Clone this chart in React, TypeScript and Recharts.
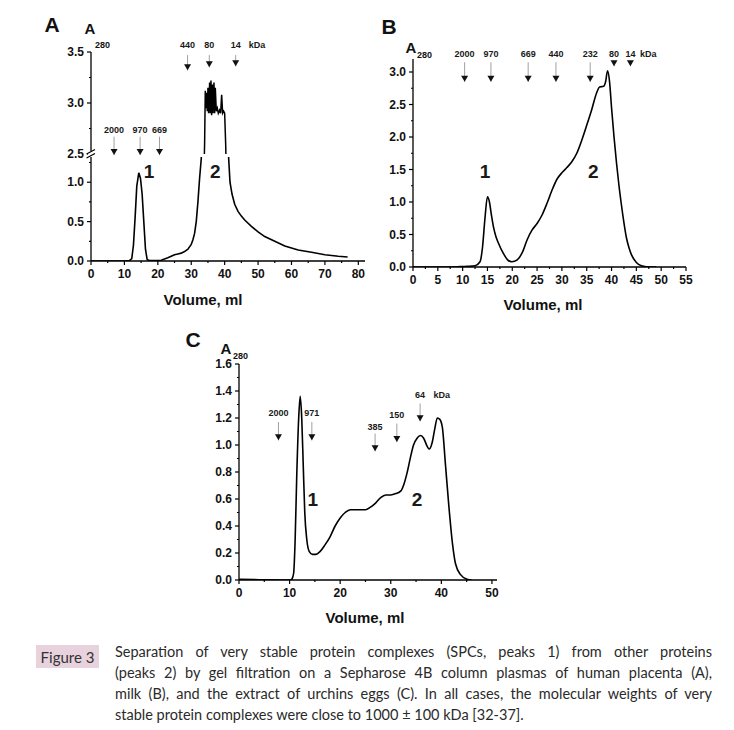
import React from "react";
import { LineChart, Line, XAxis, YAxis, ReferenceDot, ReferenceLine } from "recharts";

// ---- panel A: placenta ----
const aVolume = [0, 5, 10, 11.5, 12.2, 12.7, 13.2, 13.7, 14.3, 14.8, 15.3, 15.8, 16.3, 16.8, 17.5, 20, 21, 22, 23, 24, 25, 26, 27, 28, 29, 30, 30.5, 31, 31.5, 32, 32.5, 33, 33.5, 34, 34.2, 34.4, 34.6, 34.8, 35.0, 35.2, 35.5, 35.7, 35.9, 36.1, 36.3, 36.5, 36.8, 37.0, 37.2, 37.5, 37.8, 38.1, 38.5, 38.8, 39.1, 39.4, 39.7, 40.0, 40.3, 40.8, 41.2, 41.6, 42.2, 43, 44, 45, 46, 48, 50, 52, 55, 58, 62, 66, 70, 74, 76.8];
const aAbs = [0, 0, 0, 0.005, 0.03, 0.2, 0.55, 0.95, 1.12, 1.05, 0.85, 0.5, 0.15, 0.02, 0.005, 0.005, 0.01, 0.025, 0.04, 0.06, 0.08, 0.09, 0.1, 0.12, 0.15, 0.21, 0.27, 0.35, 0.5, 0.75, 1.05, 1.3, 1.9, 2.6, 3.12, 2.95, 3.1, 2.92, 3.15, 2.9, 3.2, 2.9, 3.22, 2.88, 3.18, 2.9, 3.2, 2.9, 3.15, 2.92, 2.95, 2.9, 2.93, 2.9, 3.08, 2.9, 2.92, 2.9, 2.6, 1.9, 1.3, 1.0, 0.85, 0.72, 0.63, 0.57, 0.52, 0.44, 0.37, 0.31, 0.25, 0.19, 0.14, 0.11, 0.08, 0.06, 0.05];
const aXTicks = [0, 5, 10, 15, 20, 25, 30, 35, 40, 45, 50, 55, 60, 65, 70, 75, 80];
const aLowTicks = [0, 0.25, 0.5, 0.75, 1.0, 1.25];
const aHighTicks = [2.5, 2.75, 3.0, 3.25, 3.5];
const aMarkLabels = ["2000", "970", "669", "440", "80", "14"];
const aMarkX = [6.9, 14.7, 20.5, 28.9, 35.4, 43.3];
const aMarkTip = [2.49, 2.49, 2.49, 3.32, 3.35, 3.36];
const aMarkTop = [2.67, 2.67, 2.67, 3.47, 3.47, 3.47];
const aMarkLabelY = [2.74, 2.74, 2.74, 3.57, 3.57, 3.57];
const aKda = [49.7, 3.57];
const aPeakX = [17.4, 37.2];
const aPeakY = [1.13, 1.13];

// ---- panel B: milk ----
const bVolume = [0, 5, 9, 11, 12.5, 13.5, 14, 14.5, 15, 15.4, 15.8, 16.2, 16.7, 17.2, 18.2, 19.2, 19.9, 21, 22, 23, 24, 25, 26, 27, 28, 29, 30, 31, 32, 33, 34, 35, 36, 37, 37.6, 38.4, 38.8, 39.2, 39.6, 40, 40.5, 41, 41.5, 42, 42.5, 43, 43.5, 44, 45, 46, 47, 49];
const bAbs = [0, 0, 0.005, 0.01, 0.02, 0.08, 0.3, 0.75, 1.08, 1.0, 0.8, 0.62, 0.47, 0.37, 0.21, 0.1, 0.08, 0.11, 0.22, 0.42, 0.57, 0.67, 0.8, 0.98, 1.18, 1.35, 1.45, 1.53, 1.62, 1.75, 1.95, 2.18, 2.42, 2.68, 2.77, 2.78, 2.85, 3.02, 2.85, 2.45, 2.0, 1.6, 1.25, 0.95, 0.68, 0.45, 0.3, 0.19, 0.07, 0.02, 0.005, 0];
const bXTicks = [0, 2.5, 5, 7.5, 10, 12.5, 15, 17.5, 20, 22.5, 25, 27.5, 30, 32.5, 35, 37.5, 40, 42.5, 45, 47.5, 50, 52.5, 55];
const bYTicks = [0, 0.25, 0.5, 0.75, 1.0, 1.25, 1.5, 1.75, 2.0, 2.25, 2.5, 2.75, 3.0];
const bMarkLabels = ["2000", "970", "669", "440", "232", "80", "14"];
const bMarkX = [10.4, 15.7, 23.2, 28.8, 35.7, 40.5, 43.8];
const bMarkTip = [2.85, 2.85, 2.85, 2.85, 2.85, 3.09, 3.09];
const bMarkTop = [3.15, 3.15, 3.15, 3.15, 3.15, 3.15, 3.15];
const bMarkLabelY = [3.27, 3.27, 3.27, 3.27, 3.27, 3.27, 3.27];
const bKda = [47.4, 3.27];
const bPeakX = [14.5, 36.3];
const bPeakY = [1.47, 1.47];

// ---- panel C: urchin eggs ----
const cVolume = [0, 3, 6, 9, 10.1, 10.5, 10.8, 11.1, 11.4, 11.8, 12.1, 12.4, 12.7, 13.0, 13.4, 13.9, 14.5, 15.2, 16, 17, 18, 19, 20, 21, 22, 23, 24, 25, 26, 27, 28, 29, 30, 31, 32, 32.6, 33.2, 33.9, 34.5, 35.2, 35.9, 36.5, 37.2, 37.6, 38.2, 38.7, 39.2, 39.7, 40.2, 40.8, 41.5, 42.2, 42.8, 43.8, 45.1, 46];
const cAbs = [0.005, 0.003, 0.001, 0, 0, 0.01, 0.05, 0.3, 0.75, 1.2, 1.36, 1.2, 0.85, 0.5, 0.3, 0.21, 0.19, 0.19, 0.21, 0.26, 0.32, 0.4, 0.46, 0.5, 0.52, 0.52, 0.52, 0.52, 0.54, 0.57, 0.61, 0.63, 0.63, 0.64, 0.66, 0.71, 0.79, 0.91, 1.0, 1.05, 1.07, 1.05, 0.99, 0.97, 1.02, 1.12, 1.2, 1.19, 1.13, 0.86, 0.54, 0.27, 0.12, 0.04, 0.005, 0];
const cXTicks = [0, 5, 10, 15, 20, 25, 30, 35, 40, 45, 50];
const cYTicks = [0, 0.1, 0.2, 0.3, 0.4, 0.5, 0.6, 0.7, 0.8, 0.9, 1.0, 1.1, 1.2, 1.3, 1.4, 1.5, 1.6];
const cMarkLabels = ["2000", "971", "385", "150", "64"];
const cMarkX = [7.8, 14.4, 26.9, 31.2, 35.8];
const cMarkTip = [1.035, 1.035, 0.954, 1.023, 1.176];
const cMarkTop = [1.17, 1.17, 1.085, 1.159, 1.307];
const cMarkLabelY = [1.237, 1.237, 1.134, 1.225, 1.373];
const cKda = [40.1, 1.373];
const cPeakX = [14.6, 35.2];
const cPeakY = [0.6, 0.6];

const captionLines = [
  "Separation of very stable protein complexes (SPCs, peaks 1) from other proteins",
  "(peaks 2) by gel filtration on a Sepharose 4B column plasmas of human placenta (A),",
  "milk (B), and the extract of urchins eggs (C). In all cases, the molecular weights of very",
  "stable protein complexes were close to 1000 \u00b1 100 kDa [32-37].",
];

const FONT = '"Liberation Sans", Arial, sans-serif';
const toRows = (xs: number[], ys: number[]) => xs.map((v, i) => ({ v, a: ys[i] }));

const isMajor = (v: number, step: number) => Math.abs(v / step - Math.round(v / step)) < 1e-6;

function makeYTick(step: number) {
  return (p: any) => {
    const v = p.payload.value;
    const major = isMajor(v, step);
    return (
      <g>
        <line x1={p.x - (major ? 4 : 2)} y1={p.y} x2={p.x} y2={p.y} stroke="#000" strokeWidth={1.2} />
        {major && (
          <text x={p.x - 7} y={p.y} textAnchor="end" dominantBaseline="central" fontFamily={FONT} fontWeight="bold" fontSize={12} fill="#111">
            {v.toFixed(1)}
          </text>
        )}
      </g>
    );
  };
}

function makeXTick(step: number) {
  return (p: any) => {
    const v = p.payload.value;
    const major = isMajor(v, step);
    return (
      <g>
        <line x1={p.x} y1={p.y} x2={p.x} y2={p.y + (major ? 4 : 2)} stroke="#000" strokeWidth={1.2} />
        {major && (
          <text x={p.x} y={p.y + 12.5} textAnchor="middle" dominantBaseline="central" fontFamily={FONT} fontWeight="bold" fontSize={12} fill="#111">
            {v}
          </text>
        )}
      </g>
    );
  };
}

const arrowHead = (p: any) => (
  <path d={`M${p.cx - 3.5},${p.cy - 6} L${p.cx + 3.5},${p.cy - 6} L${p.cx},${p.cy} Z`} fill="#111" />
);

const textShape = (text: string, size: number) => (p: any) => (
  <text x={p.cx} y={p.cy} textAnchor="middle" dominantBaseline="central" fontFamily={FONT} fontWeight="bold" fontSize={size} fill="#1a1a1a">
    {text}
  </text>
);

function marks(labels: string[], xs: number[], tips: number[], tops: number[], labelYs: number[], kda: number[]) {
  const out: React.ReactNode[] = [];
  labels.forEach((lab, i) => {
    out.push(
      <ReferenceLine key={`s${i}`} segment={[{ x: xs[i], y: tops[i] }, { x: xs[i], y: tips[i] - 0.001 }]} stroke="#a0a0a0" strokeWidth={1} ifOverflow="visible" />
    );
    out.push(<ReferenceDot key={`h${i}`} x={xs[i]} y={tips[i]} ifOverflow="visible" shape={arrowHead} />);
    out.push(<ReferenceDot key={`t${i}`} x={xs[i]} y={labelYs[i]} ifOverflow="visible" shape={textShape(lab, 9)} />);
  });
  out.push(<ReferenceDot key="kda" x={kda[0]} y={kda[1]} ifOverflow="visible" shape={textShape("kDa", 9)} />);
  return out;
}

function peaks(xs: number[], ys: number[]) {
  return xs.map((x, i) => (
    <ReferenceDot key={`p${i}`} x={x} y={ys[i]} ifOverflow="visible" shape={textShape(String(i + 1), 19)} />
  ));
}

const axisLine = { stroke: "#000", strokeWidth: 1.3 };

function Txt({ x, y, size, children, weight = "bold" }: any) {
  return (
    <div style={{ position: "absolute", left: x, top: y, transform: "translate(-50%, -50%)", fontFamily: FONT, fontWeight: weight, fontSize: size, color: "#111", whiteSpace: "nowrap", lineHeight: 1 }}>
      {children}
    </div>
  );
}

function Abs280({ x, y, sx, sy }: any) {
  return (
    <>
      <Txt x={x} y={y} size={15}>A</Txt>
      <div style={{ position: "absolute", left: sx, top: sy, transform: "translateY(-50%)", fontFamily: FONT, fontWeight: "bold", fontSize: 9, color: "#111", lineHeight: 1 }}>280</div>
    </>
  );
}

export default function App() {
  const aData = toRows(aVolume, aAbs);
  const bData = toRows(bVolume, bAbs);
  const cData = toRows(cVolume, cAbs);

  return (
    <div style={{ position: "absolute", left: 0, top: 0, width: 734, height: 730, background: "#fff", overflow: "hidden" }}>
      {/* Panel A, upper part of the broken axis */}
      <div style={{ position: "absolute", left: 40, top: 36 }}>
        <LineChart width={335} height={128} data={aData} margin={{ top: 16, right: 10, bottom: 10, left: 0 }}>
          <XAxis dataKey="v" type="number" domain={[0, 82]} hide allowDataOverflow />
          <YAxis type="number" domain={[2.5, 3.5]} ticks={aHighTicks} interval={0} width={51} allowDataOverflow axisLine={axisLine} tickLine={false} tickSize={0} tickMargin={0} tick={makeYTick(0.5)} />
          <Line dataKey="a" type="linear" stroke="#000" strokeWidth={1.5} dot={false} isAnimationActive={false} />
          {marks(aMarkLabels, aMarkX, aMarkTip, aMarkTop, aMarkLabelY, aKda)}
        </LineChart>
      </div>
      {/* Panel A, lower part */}
      <div style={{ position: "absolute", left: 40, top: 150 }}>
        <LineChart width={335} height={141} data={aData} margin={{ top: 7, right: 10, bottom: 0, left: 0 }}>
          <XAxis dataKey="v" type="number" domain={[0, 82]} ticks={aXTicks} interval={0} height={30} allowDataOverflow axisLine={axisLine} tickLine={false} tickSize={0} tickMargin={0} tick={makeXTick(10)} />
          <YAxis type="number" domain={[0, 1.32]} ticks={aLowTicks} interval={0} width={51} allowDataOverflow axisLine={axisLine} tickLine={false} tickSize={0} tickMargin={0} tick={makeYTick(0.5)} />
          <Line dataKey="a" type="linear" stroke="#000" strokeWidth={1.6} dot={false} isAnimationActive={false} />
          {peaks(aPeakX, aPeakY)}
        </LineChart>
      </div>
      <svg style={{ position: "absolute", left: 0, top: 0 }} width={120} height={180}>
        <rect x={88} y={151} width={6} height={5} fill="#fff" />
        <path d="M86.5,154 L95,149.5 M86.5,158 L95,153.5" stroke="#000" strokeWidth={1.2} fill="none" />
      </svg>

      {/* Panel B */}
      <div style={{ position: "absolute", left: 370, top: 40 }}>
        <LineChart width={326} height={257} data={bData} margin={{ top: 19, right: 10, bottom: 0, left: 0 }}>
          <XAxis dataKey="v" type="number" domain={[0, 55]} ticks={bXTicks} interval={0} height={30} allowDataOverflow axisLine={axisLine} tickLine={false} tickSize={0} tickMargin={0} tick={makeXTick(5)} />
          <YAxis type="number" domain={[0, 3.2]} ticks={bYTicks} interval={0} width={43} allowDataOverflow axisLine={axisLine} tickLine={false} tickSize={0} tickMargin={0} tick={makeYTick(0.5)} />
          <Line dataKey="a" type="monotone" stroke="#000" strokeWidth={1.6} dot={false} isAnimationActive={false} />
          {marks(bMarkLabels, bMarkX, bMarkTip, bMarkTop, bMarkLabelY, bKda)}
          {peaks(bPeakX, bPeakY)}
        </LineChart>
      </div>

      {/* Panel C */}
      <div style={{ position: "absolute", left: 190, top: 340 }}>
        <LineChart width={317} height={270} data={cData} margin={{ top: 24, right: 10, bottom: 0, left: 0 }}>
          <XAxis dataKey="v" type="number" domain={[0, 51]} ticks={cXTicks} interval={0} height={30} allowDataOverflow axisLine={axisLine} tickLine={false} tickSize={0} tickMargin={0} tick={makeXTick(10)} />
          <YAxis type="number" domain={[0, 1.6]} ticks={cYTicks} interval={0} width={49} allowDataOverflow axisLine={axisLine} tickLine={false} tickSize={0} tickMargin={0} tick={makeYTick(0.2)} />
          <Line dataKey="a" type="monotone" stroke="#000" strokeWidth={1.6} dot={false} isAnimationActive={false} />
          {marks(cMarkLabels, cMarkX, cMarkTip, cMarkTop, cMarkLabelY, cKda)}
          {peaks(cPeakX, cPeakY)}
        </LineChart>
      </div>

      {/* panel letters, axis titles */}
      <Txt x={52} y={24} size={21}>A</Txt>
      <Txt x={389} y={26} size={21}>B</Txt>
      <Txt x={193} y={339} size={21}>C</Txt>
      <Abs280 x={90} y={28} sx={95} sy={45} />
      <Abs280 x={411} y={47} sx={417} sy={55} />
      <Abs280 x={226} y={348} sx={233} sy={356} />
      <Txt x={203} y={299} size={15}>Volume, ml</Txt>
      <Txt x={543} y={304} size={15}>Volume, ml</Txt>
      <Txt x={365} y={617} size={15}>Volume, ml</Txt>

      {/* caption */}
      <div style={{ position: "absolute", left: 36, top: 645, width: 63, height: 23, background: "#e8d2de", fontFamily: "Lato, sans-serif", fontSize: 15, color: "#333", display: "flex", alignItems: "center", justifyContent: "center" }}>
        Figure 3
      </div>
      <div style={{ position: "absolute", left: 115, top: 641, width: 597, fontFamily: "Lato, sans-serif", fontSize: 14.5, color: "#2a2a2a", lineHeight: "21px" }}>
        {captionLines.map((line, i) => (
          <div key={i} style={{ whiteSpace: "nowrap", textAlign: "justify", textAlignLast: i < captionLines.length - 1 ? "justify" : "left" }}>
            {line}
          </div>
        ))}
      </div>
    </div>
  );
}
